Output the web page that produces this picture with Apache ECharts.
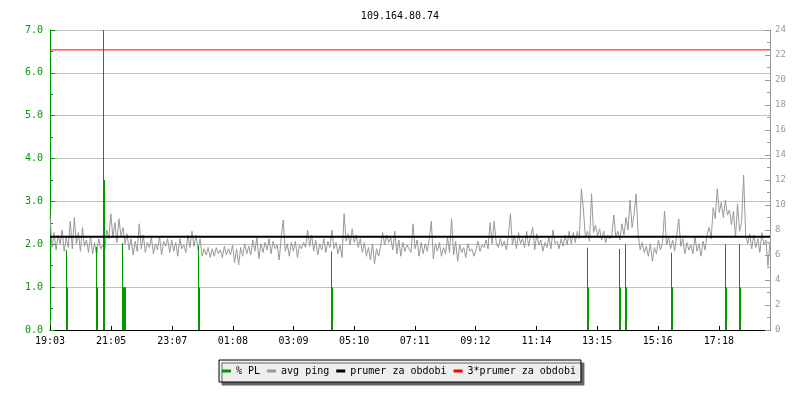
<!DOCTYPE html>
<html>
<head>
<meta charset="utf-8">
<script src="https://cdn.jsdelivr.net/npm/echarts@6/dist/echarts.min.js"></script>
<style>html,body{margin:0;padding:0;background:#fff;}#c{width:800px;height:400px;}</style>
</head>
<body>
<div id="c"></div>
<script>
// ---- data ----
const titleText = '109.164.80.74';
const startTime = '19:03';
const spanMinutes = 1437;
const tickLabels = ['19:03','21:05','23:07','01:08','03:09','05:10','07:11','09:12','11:14','13:15','15:16','17:18'];

// avg ping (ms), one sample every ~4 min
const pingValues = [
9.2,6.6,7.8,6.4,7.6,6.9,8.0,6.3,7.4,6.6,
8.7,6.5,9.0,6.9,7.8,6.3,8.2,6.7,7.2,6.2,
7.5,6.1,7.0,5.9,7.3,6.5,6.8,6.4,8.0,7.3,
9.3,7.4,8.6,7.0,8.9,7.5,8.2,6.9,7.7,6.4,
7.3,6.0,7.1,6.3,8.5,6.5,7.6,6.2,7.0,6.6,
7.4,6.1,6.9,6.4,7.5,6.0,7.1,6.7,7.3,6.2,
7.2,6.3,7.0,5.9,7.3,6.5,6.8,6.2,7.6,6.6,
7.9,6.7,7.6,6.4,7.3,5.9,6.5,6.0,6.6,5.8,
6.5,5.9,6.6,6.1,6.4,5.8,6.7,6.0,6.5,
6.0,6.8,5.4,6.5,5.2,6.6,5.9,6.9,6.1,6.7,
6.0,7.2,6.3,7.4,5.7,6.9,6.2,7.0,6.4,7.3,
6.1,7.1,6.5,6.8,5.6,7.4,8.8,6.3,6.9,5.9,
7.0,6.3,7.1,5.8,6.8,6.5,7.0,6.6,8.0,6.7,
7.6,6.3,7.2,6.0,6.9,6.4,7.3,6.2,7.1,6.6,
8.0,6.5,7.0,6.1,6.8,5.8,9.3,7.1,7.7,6.8,
8.1,7.0,7.6,6.6,7.3,6.2,7.0,5.9,6.6,5.6,
6.9,5.3,6.5,5.9,6.7,7.8,6.8,7.6,7.0,7.4,
6.4,7.9,6.1,7.2,5.9,7.0,6.3,6.8,6.5,
6.2,8.5,6.5,7.2,5.9,7.0,6.1,6.9,6.3,7.3,
8.7,5.7,6.9,6.3,7.0,5.9,6.6,6.1,7.4,6.2,
8.9,6.0,7.1,5.5,6.8,6.2,6.6,5.8,6.9,6.3,
6.5,5.9,6.4,7.1,6.3,6.8,6.6,7.2,6.5,8.6,
6.9,8.7,7.0,6.6,7.3,6.7,7.1,6.4,7.5,9.3,
6.8,7.6,6.5,7.8,6.9,7.3,6.6,7.9,6.7,7.5,
8.2,6.4,7.7,6.8,7.2,6.3,7.0,6.6,7.4,6.5,
8.0,6.9,7.1,6.5,7.3,6.7,7.6,6.8,7.9,6.9,
7.8,7.0,7.9,7.3,11.3,9.6,7.4,7.9,7.1,
10.9,7.8,8.4,7.5,8.1,7.2,7.9,7.0,7.6,7.3,
7.6,9.2,7.4,7.9,7.2,8.5,7.6,9.0,8.0,10.4,
8.2,9.3,10.9,7.6,6.4,7.0,6.2,6.7,5.9,6.9,
5.5,6.6,6.1,7.2,6.4,7.0,9.5,6.8,7.4,6.5,
7.2,6.3,7.6,8.9,6.7,7.3,6.1,7.0,6.4,6.8,
6.1,7.5,6.3,6.9,5.9,7.1,6.4,7.7,8.2,7.3,
9.8,8.9,11.3,9.4,10.2,9.0,10.4,9.2,9.6,8.4,
9.5,7.4,10.1,7.9,8.6,12.4,7.6,6.9,7.7,6.5,
7.6,6.6,7.3,6.2,7.8,6.8,7.2,5.1,7.0
];

// packet loss events: minutes from start, sustained %, peak %
const plMinutes = [31.9, 91.8, 105.8, 143.7, 147.7, 295.4, 560.9, 1071.9, 1135.7, 1147.7, 1239.5, 1347.3, 1375.2];
const plValues  = [1.0, 1.0, 3.5, 1.0, 1.0, 1.0, 1.0, 1.0, 1.0, 1.0, 1.0, 1.0, 1.0];
const plPeaks   = [1.87, 1.94, 7.0, 2.03, 1.0, 1.96, 1.83, 1.92, 1.89, 2.0, 1.8, 2.0, 2.0];

const avgPing = 7.47;
const avgMultiplier = 3;

// ---- build ----
function toMin(s){const p=s.split(':');return (+p[0])*60+(+p[1]);}
const start = toMin(startTime);
const tickMinutes = tickLabels.map(l => ((toMin(l) - start) % 1440 + 1440) % 1440);
const step = spanMinutes / (pingValues.length - 1);
const pingData = pingValues.map((v,i)=>[i*step, v]);
const plData = plMinutes.map((t,i)=>[t, plValues[i], plPeaks[i]]);
function fmtMin(m){
  const idx = tickMinutes.indexOf(m);
  if (idx >= 0) return tickLabels[idx];
  const t = (start + Math.round(m)) % 1440;
  return String(Math.floor(t/60)).padStart(2,'0')+':'+String(t%60).padStart(2,'0');
}

const FONT = 'DejaVu Sans Mono';
const GREEN = '#009900';
const GREY = '#999999';

const chart = echarts.init(document.getElementById('c'), null, {renderer:'canvas'});
chart.setOption({
  animation: false,
  backgroundColor: '#ffffff',
  title: {
    text: titleText, left: 'center', top: 6,
    textStyle: {fontFamily: FONT, fontSize: 10, fontWeight: 'normal', color: '#000'}
  },
  grid: {left: 50, right: 30, top: 30, bottom: 70},
  legend: {
    data: [
      {name: '% PL', itemStyle: {color: GREEN}},
      {name: 'avg ping', itemStyle: {color: GREY}},
      {name: 'prumer za obdobi', itemStyle: {color: '#000'}},
      {name: '3*prumer za obdobi', itemStyle: {color: '#ff0000'}}
    ],
    left: 219, top: 360,
    icon: 'rect', itemWidth: 9, itemHeight: 3, itemGap: 7,
    padding: [6, 5, 6, 3],
    backgroundColor: '#eeeeee', borderColor: '#000', borderWidth: 1,
    shadowColor: '#666', shadowBlur: 0, shadowOffsetX: 3, shadowOffsetY: 3,
    textStyle: {fontFamily: FONT, fontSize: 10, color: '#000'},
    selectedMode: false
  },
  xAxis: {
    type: 'value', min: 0, max: spanMinutes,
    axisLine: {show: true, lineStyle: {color: '#000', width: 1}},
    axisTick: {show: true, inside: true, length: 4, customValues: tickMinutes, lineStyle: {color: '#000'}},
    axisLabel: {customValues: tickMinutes, formatter: fmtMin, fontFamily: FONT, fontSize: 10, color: '#000', margin: 6},
    splitLine: {show: false}
  },
  yAxis: [
    {
      type: 'value', min: 0, max: 7, interval: 1, position: 'left',
      axisLine: {show: true, lineStyle: {color: GREEN}},
      axisTick: {show: true, inside: true, length: 5, lineStyle: {color: GREEN}},
      minorTick: {show: true, splitNumber: 2, length: 3, lineStyle: {color: GREEN}},
      axisLabel: {formatter: v => v.toFixed(1), fontFamily: FONT, fontSize: 10, color: GREEN, margin: 7},
      splitLine: {show: true, lineStyle: {color: '#c0c0c0', width: 1}}
    },
    {
      type: 'value', min: 0, max: 24, interval: 2, position: 'right',
      axisLine: {show: true, lineStyle: {color: GREY}},
      axisTick: {show: true, inside: true, length: 5, lineStyle: {color: GREY}},
      minorTick: {show: true, splitNumber: 2, length: 3, lineStyle: {color: GREY}},
      axisLabel: {fontFamily: FONT, fontSize: 9, color: GREY, margin: 5},
      splitLine: {show: false}
    }
  ],
  series: [
    {
      name: 'avg ping', type: 'line', yAxisIndex: 1, data: pingData,
      showSymbol: false, symbol: 'none',
      lineStyle: {color: GREY, width: 1}, itemStyle: {color: GREY}, z: 2
    },
    {
      name: '% PL', type: 'custom', yAxisIndex: 0, data: plData, clip: true,
      itemStyle: {color: GREEN}, z: 3,
      encode: {x: 0, y: 1},
      renderItem: function(params, api){
        const base = api.coord([api.value(0), 0]);
        const top = api.coord([api.value(0), api.value(1)]);
        const peak = api.coord([api.value(0), api.value(2)]);
        const x = Math.round(base[0]);
        return {
          type: 'group',
          children: [
            {type: 'rect', shape: {x: x, y: peak[1], width: 1, height: base[1]-peak[1]},
             style: {fill: GREEN, stroke: null}},
            {type: 'rect', shape: {x: x, y: top[1], width: 2, height: base[1]-top[1]},
             style: {fill: GREEN, stroke: null}}
          ]
        };
      }
    },
    {
      name: 'prumer za obdobi', type: 'line', yAxisIndex: 1,
      data: [[0, avgPing], [spanMinutes, avgPing]],
      showSymbol: false, symbol: 'none',
      lineStyle: {color: '#000', width: 2}, itemStyle: {color: '#000'}, z: 4
    },
    {
      name: '3*prumer za obdobi', type: 'line', yAxisIndex: 1,
      data: [[0, avgPing*avgMultiplier], [spanMinutes, avgPing*avgMultiplier]],
      showSymbol: false, symbol: 'none',
      lineStyle: {color: '#ff0000', width: 1}, itemStyle: {color: '#ff0000'}, z: 4
    }
  ]
});
</script>
</body>
</html>
